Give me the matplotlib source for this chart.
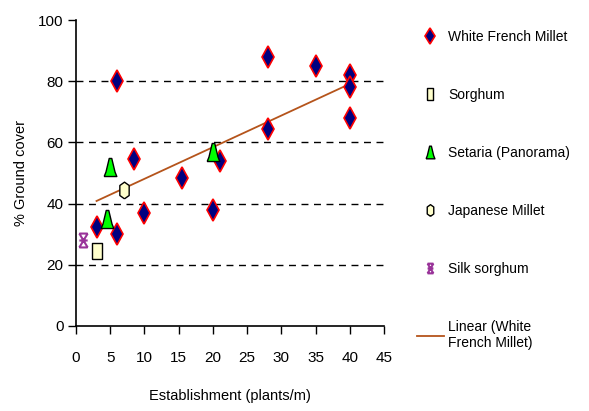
import numpy as np
import matplotlib
matplotlib.use('Agg')
import matplotlib.pyplot as plt
from matplotlib.path import Path

plt.rcParams['font.family'] = ['Liberation Sans', 'DejaVu Sans']

# White French Millet
wfm_x = [3, 6, 6, 8.5, 10, 15.5, 20, 21, 28, 28, 35, 40, 40, 40]
wfm_y = [32.5, 30, 80, 54.5, 37, 48.5, 38, 54, 88, 64.5, 85, 82, 78, 68]

sorghum_x = [3]
sorghum_y = [24.5]

setaria_x = [4.5, 5, 20]
setaria_y = [35, 52, 57]

japanese_x = [7]
japanese_y = [44.5]

silk_x = [1]
silk_y = [28]

xticks = [0, 5, 10, 15, 20, 25, 30, 35, 40, 45]
yticks = [0, 20, 40, 60, 80, 100]

# marker shapes (excel style)
rect = [(-0.3, -0.5), (0.3, -0.5), (0.3, 0.5), (-0.3, 0.5), (-0.3, -0.5)]
bell = [(-0.35, -0.5), (0.35, -0.5), (0.25, -0.25), (0.07, 0.5),
        (-0.07, 0.5), (-0.25, -0.25), (-0.35, -0.5)]
hexa = [(0, -0.5), (0.28, -0.3), (0.28, 0.3), (0, 0.5), (-0.28, 0.3),
        (-0.28, -0.3), (0, -0.5)]
star = Path([(-0.3, -0.5), (0.3, 0.5), (0.3, -0.5), (-0.3, 0.5),
             (-0.3, 0.5), (0.3, 0.5), (-0.3, -0.5), (0.3, -0.5),
             (-0.3, 0), (0.3, 0)],
            [Path.MOVETO, Path.LINETO, Path.MOVETO, Path.LINETO,
             Path.MOVETO, Path.LINETO, Path.MOVETO, Path.LINETO,
             Path.MOVETO, Path.LINETO])

fig = plt.figure(figsize=(5.89, 4.11), dpi=100)
ax = fig.add_axes([0.129, 0.207, 0.523, 0.744])

for yv in yticks[1:-1]:
    ax.axhline(yv, color='black', lw=1, ls=(0, (5, 4)), zorder=1)

ax.plot(wfm_x, wfm_y, ls='none', marker='d', ms=11, mfc='#000080', mec='red',
        mew=1.2, label='White French Millet', zorder=3)
ax.plot(sorghum_x, sorghum_y, ls='none', marker=rect, ms=12, mfc='#FFFFCC', mec='black',
        mew=1, label='Sorghum', zorder=3)
ax.plot(setaria_x, setaria_y, ls='none', marker=bell, ms=13, mfc='#00FF00', mec='black',
        mew=1, label='Setaria (Panorama)', zorder=3)
ax.plot(japanese_x, japanese_y, ls='none', marker=hexa, ms=12, mfc='#FFFFCC', mec='black',
        mew=1, label='Japanese Millet', zorder=3)
ax.plot(silk_x, silk_y, ls='none', marker=star, ms=10, mfc='none', mec='#993399',
        mew=1.5, label='Silk sorghum', zorder=3)

# linear trendline of White French Millet
k, b = np.polyfit(wfm_x, wfm_y, 1)
tx = np.array([min(wfm_x), max(wfm_x)])
ax.plot(tx, k * tx + b, color='#B5541B', lw=1.3, label='Linear (White\nFrench Millet)', zorder=2)

ax.set_xlim(0, 45)
ax.set_ylim(0, 100)
ax.set_xticks(xticks)
ax.set_yticks(yticks)
ax.spines['top'].set_visible(False)
ax.spines['right'].set_visible(False)
ax.spines['left'].set_linewidth(1.2)
ax.spines['bottom'].set_linewidth(1.2)
ax.tick_params(direction='out', length=6, width=1, labelsize=11)
ax.tick_params(axis='x', pad=12)
ax.tick_params(axis='y', pad=3)
ax.set_xlabel('Establishment (plants/m)', fontsize=10.5, labelpad=17)
ax.set_ylabel('% Ground cover', fontsize=10.5, labelpad=7)

fig.legend(loc='upper left', bbox_to_anchor=(0.686, 0.958), frameon=False,
           fontsize=10, labelspacing=3.17, handlelength=2.0, handletextpad=0.3,
           numpoints=1, markerscale=0.7)

fig.savefig('out.png', dpi=100)
